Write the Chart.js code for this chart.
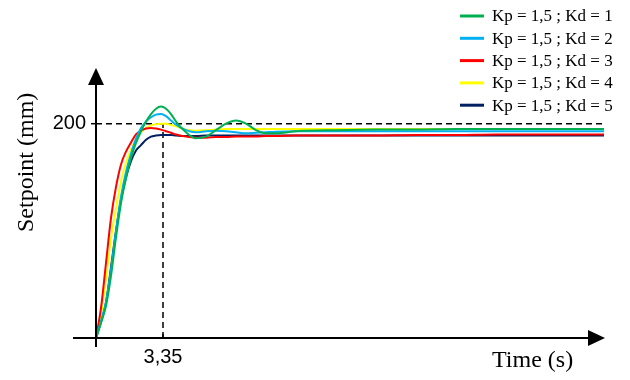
<!DOCTYPE html>
<html>
<head>
<meta charset="utf-8">
<script src="https://cdn.jsdelivr.net/npm/chart.js@4.4.1/dist/chart.umd.min.js"></script>
<style>
  html, body { margin: 0; padding: 0; background: #fff; }
</style>
</head>
<body>
<canvas id="pdChart" width="630" height="380"></canvas>
<script>
// time samples (s)
const time = [0, 0.25, 0.5, 0.75, 1, 1.25, 1.5, 1.75, 2, 2.25, 2.5, 2.75, 3, 3.25, 3.5, 3.75, 4, 4.5, 5, 5.5, 6, 6.5, 7, 7.5, 8, 8.5, 9, 10, 12, 14, 16, 18, 20, 22, 24, 25.4];

// position (mm) for each Kd
const kd1 = [0, 14, 30, 58, 94, 126, 149, 168, 182, 193, 202, 209, 214, 216, 214, 209, 202, 192, 186.5, 188, 194, 200, 203, 200, 194, 191, 191, 193, 194, 194.5, 194.5, 195, 195, 195, 195, 195];
const kd2 = [0, 16, 34, 64, 100, 132, 155, 172, 186, 196, 202, 206, 208.5, 209, 207, 203, 199, 194, 192, 193, 193.5, 193, 192, 191, 191.5, 192, 192.5, 193, 193, 193, 193, 193, 193, 193, 193, 193];
const kd3 = [0, 28, 70, 112, 141, 162, 174, 182.5, 190, 193.5, 195.5, 196, 195.5, 194.5, 193, 191.5, 190, 188, 187, 187, 187.5, 187.5, 188, 188, 188, 188.5, 188.5, 189, 189, 189, 189.5, 189.5, 190, 190, 190, 190];
const kd4 = [0, 22, 55, 93, 121, 146, 164, 176, 185, 192, 196, 198.5, 199.5, 200, 200, 199, 197.5, 194.5, 193.5, 194, 194.5, 195, 195, 195, 195, 195, 195, 195, 195, 195, 195, 195, 195, 195, 195, 195];
const kd5 = [0, 15, 33, 66, 100, 129, 150, 165, 175, 180, 185, 188, 189, 189.5, 189.5, 189.5, 189, 188.5, 188.5, 189, 189, 189, 189, 189, 189, 189, 189, 189, 189, 189, 189, 189, 189, 189, 189, 189];

const seriesLabels = ['Kp = 1,5 ; Kd = 1', 'Kp = 1,5 ; Kd = 2', 'Kp = 1,5 ; Kd = 3', 'Kp = 1,5 ; Kd = 4', 'Kp = 1,5 ; Kd = 5'];
const seriesColors = ['#00b050', '#00b0f0', '#ff0000', '#ffff00', '#002060'];

// reference marks
const setpoint = 200;
const riseTime = 3.35;
const xTicks = [riseTime];
const yTicks = [setpoint];

const toPoints = vals => vals.map((v, i) => ({ x: time[i], y: v }));
const series = [kd1, kd2, kd3, kd4, kd5];

const datasets = series.map((vals, i) => ({
  label: seriesLabels[i],
  data: toPoints(vals),
  borderColor: seriesColors[i],
  borderWidth: 2,
  pointRadius: 0,
  cubicInterpolationMode: 'monotone',
  fill: false
}));

// dashed guide lines
datasets.push({
  label: 'ref-h',
  data: [{ x: 0, y: setpoint }, { x: time[time.length - 1], y: setpoint }],
  borderColor: '#000',
  borderWidth: 1.5,
  borderDash: [6, 4],
  pointRadius: 0
});
datasets.push({
  label: 'ref-v',
  data: [{ x: riseTime, y: 0 }, { x: riseTime, y: setpoint }],
  borderColor: '#000',
  borderWidth: 1.5,
  borderDash: [6, 4],
  pointRadius: 0
});

// arrows, small ticks, titles and legend
const decorPlugin = {
  id: 'decor',
  afterDraw(chart) {
    const c = chart.ctx;
    const a = chart.chartArea;
    const ys = chart.scales.y;
    const xs = chart.scales.x;
    c.save();
    c.strokeStyle = '#000';
    c.fillStyle = '#000';
    c.lineWidth = 2;

    // y axis
    c.beginPath();
    c.moveTo(a.left, a.bottom + 9);
    c.lineTo(a.left, a.top + 16);
    c.stroke();
    c.beginPath();
    c.moveTo(a.left, a.top);
    c.lineTo(a.left - 8, a.top + 17);
    c.lineTo(a.left + 8, a.top + 17);
    c.closePath();
    c.fill();

    // x axis
    c.beginPath();
    c.moveTo(a.left - 23, a.bottom);
    c.lineTo(a.right - 16, a.bottom);
    c.stroke();
    c.beginPath();
    c.moveTo(a.right, a.bottom);
    c.lineTo(a.right - 17, a.bottom - 8);
    c.lineTo(a.right - 17, a.bottom + 8);
    c.closePath();
    c.fill();

    // tick marks
    c.lineWidth = 1.5;
    const ty = ys.getPixelForValue(setpoint);
    c.beginPath();
    c.moveTo(a.left - 5, ty);
    c.lineTo(a.left, ty);
    c.stroke();
    const tx = xs.getPixelForValue(riseTime);
    c.beginPath();
    c.moveTo(tx, a.bottom - 4);
    c.lineTo(tx, a.bottom);
    c.stroke();

    // axis titles
    c.font = '24px "Liberation Serif"';
    c.textBaseline = 'alphabetic';
    c.textAlign = 'left';
    c.fillText('Time (s)', 492, 367);
    c.save();
    c.translate(33, 232);
    c.rotate(-Math.PI / 2);
    c.fillText('Setpoint (mm)', 0, 0);
    c.restore();

    // legend
    c.font = '17px "Liberation Serif"';
    c.textBaseline = 'middle';
    c.lineWidth = 3;
    seriesLabels.forEach((lab, i) => {
      const y = 16 + i * 22.3;
      c.strokeStyle = seriesColors[i];
      c.beginPath();
      c.moveTo(460, y);
      c.lineTo(484, y);
      c.stroke();
      c.fillStyle = '#000';
      c.fillText(lab, 492, y + 1);
    });
    c.restore();
  }
};

new Chart(document.getElementById('pdChart'), {
  type: 'line',
  data: { datasets: datasets },
  options: {
    responsive: false,
    animation: false,
    devicePixelRatio: 1,
    layout: { padding: { top: 68, right: 25, left: 0, bottom: 0 } },
    plugins: {
      legend: { display: false },
      tooltip: { enabled: false }
    },
    scales: {
      x: {
        type: 'linear',
        min: 0,
        max: 25.45,
        grid: { display: false, drawTicks: false },
        border: { display: false },
        afterBuildTicks: s => { s.ticks = xTicks.map(v => ({ value: v })); },
        afterFit: s => { s.height = 42; },
        ticks: {
          color: '#000',
          padding: 7,
          maxRotation: 0,
          autoSkip: false,
          font: { family: 'Liberation Sans', size: 20 },
          callback: v => String(v).replace('.', ',')
        }
      },
      y: {
        type: 'linear',
        min: 0,
        max: 252,
        grid: { display: false, drawTicks: false },
        border: { display: false },
        afterBuildTicks: s => { s.ticks = yTicks.map(v => ({ value: v })); },
        afterFit: s => { s.width = 96; },
        ticks: {
          color: '#000',
          padding: 10,
          autoSkip: false,
          font: { family: 'Liberation Sans', size: 20 }
        }
      }
    }
  },
  plugins: [decorPlugin]
});
</script>
</body>
</html>
